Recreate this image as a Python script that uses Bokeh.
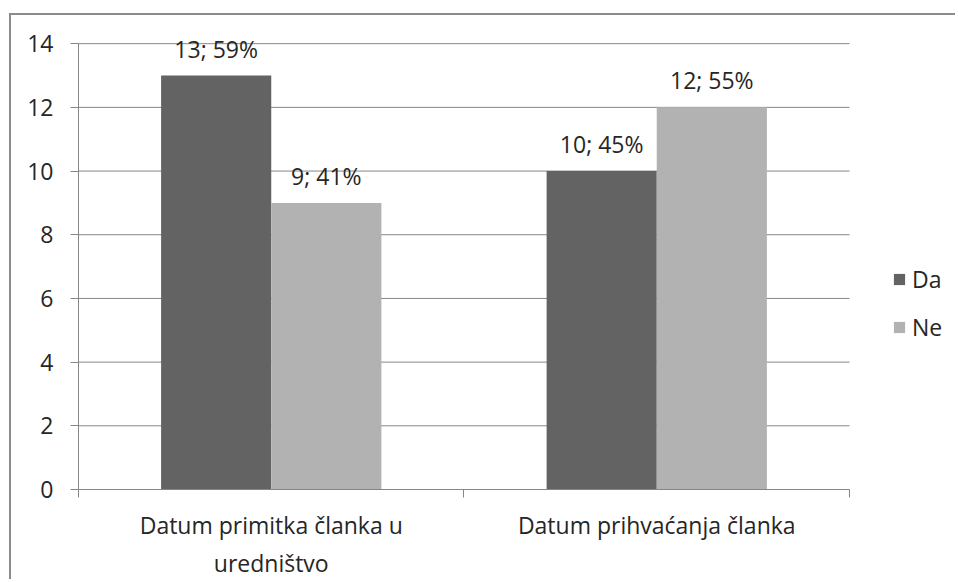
from bokeh.plotting import figure
from bokeh.models import ColumnDataSource, FixedTicker, LabelSet, Legend, LegendItem, Range1d
from bokeh.core.properties import value
from bokeh.embed import file_html
from bokeh.resources import INLINE

categories = ["Datum primitka članka u\nuredništvo", "Datum prihvaćanja članka"]
series = ["Da", "Ne"]
da_values = [13, 10]
ne_values = [9, 12]
da_pct = [59, 45]
ne_pct = [41, 55]
y_ticks = [0, 2, 4, 6, 8, 10, 12, 14]

FONT = "Open Sans"
FS = "23px"
TEXT = "#262626"
GRID = "#868686"
DA_COLOR = "#636363"
NE_COLOR = "#b2b2b2"

BW = 1 / 3.5
N = len(categories)
YMAX = y_ticks[-1]
centers = [i + 0.5 for i in range(N)]

da_src = ColumnDataSource(dict(
    x=[c - BW / 2 for c in centers], y=da_values,
    lab=[f"{v}; {p}%" for v, p in zip(da_values, da_pct)]))
ne_src = ColumnDataSource(dict(
    x=[c + BW / 2 for c in centers], y=ne_values,
    lab=[f"{v}; {p}%" for v, p in zip(ne_values, ne_pct)]))

# frame extended right (legend area) and up (room for labels above the top gridline)
p = figure(width=946, height=566, output_backend="svg", toolbar_location=None,
           x_range=Range1d(0, N * 1.131), y_range=Range1d(0, YMAX * 1.043),
           min_border_left=67, min_border_top=9, min_border_right=7,
           min_border_bottom=90)
p.margin = (13, 0, 0, 9)
p.styles = {"border-left": "2px solid #8c8c8c", "border-top": "2px solid #8c8c8c"}
p.outline_line_color = None
p.background_fill_color = "white"
p.border_fill_color = "white"

# horizontal gridlines limited to the plot area
p.segment(x0=0, x1=N, y0=y_ticks, y1=y_ticks, line_color=GRID, line_width=1)

r_da = p.vbar(x="x", top="y", width=BW, source=da_src, fill_color=DA_COLOR, line_color=None)
r_ne = p.vbar(x="x", top="y", width=BW, source=ne_src, fill_color=NE_COLOR, line_color=None)

for src in (da_src, ne_src):
    p.add_layout(LabelSet(x="x", y="y", text="lab", source=src, text_align="center",
                          text_baseline="alphabetic", y_offset=18, text_font=value(FONT),
                          text_font_size=value(FS), text_color=TEXT))

# axes
p.xaxis.ticker = FixedTicker(ticks=centers, minor_ticks=list(range(N + 1)))
p.xaxis.bounds = (0, N)
p.xaxis.major_label_overrides = {c: lab for c, lab in zip(centers, categories)}
p.xaxis.major_tick_line_color = None
p.xaxis.minor_tick_line_color = GRID
p.xaxis.minor_tick_out = 8
p.xaxis.minor_tick_in = 0
p.xaxis.axis_line_color = GRID
p.xaxis.major_label_text_font = FONT
p.xaxis.major_label_text_font_size = FS
p.xaxis.major_label_text_color = TEXT
p.xaxis.major_label_standoff = 11
p.xaxis.major_label_text_align = "center"

p.yaxis.ticker = FixedTicker(ticks=y_ticks)
p.yaxis.bounds = (0, YMAX)
p.yaxis.major_tick_line_color = GRID
p.yaxis.major_tick_out = 8
p.yaxis.major_tick_in = 0
p.yaxis.minor_tick_line_color = None
p.yaxis.axis_line_color = GRID
p.yaxis.major_label_text_font = FONT
p.yaxis.major_label_text_font_size = FS
p.yaxis.major_label_text_color = TEXT
p.yaxis.major_label_standoff = 17

p.xgrid.grid_line_color = None
p.ygrid.grid_line_color = None

legend = Legend(items=[LegendItem(label=series[0], renderers=[r_da]),
                       LegendItem(label=series[1], renderers=[r_ne])],
                location=(814, 146), orientation="vertical",
                glyph_width=14, glyph_height=14, label_standoff=6,
                label_text_font=FONT, label_text_font_size=FS, label_text_color=TEXT,
                spacing=16, padding=0, margin=0, border_line_color=None,
                background_fill_alpha=0)
p.add_layout(legend, "center")

open("out.html", "w").write(file_html(p, INLINE))
